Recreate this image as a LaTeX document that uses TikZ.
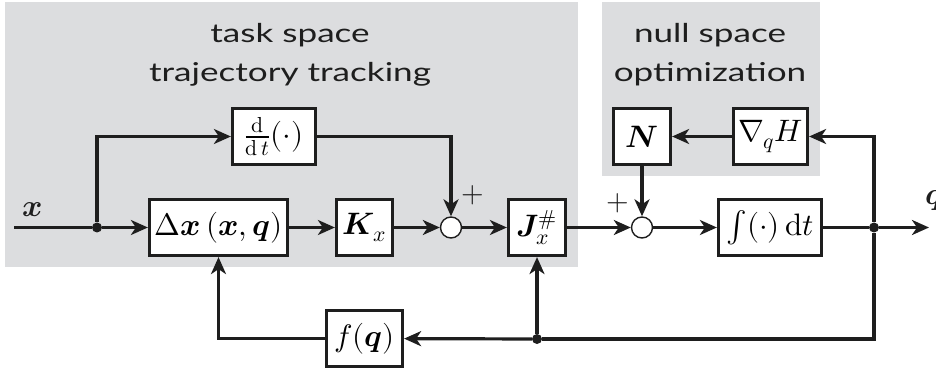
\documentclass[tikz,border=0pt]{standalone}
\usepackage{amsmath}
\usepackage{fontspec}
\usepackage{unicode-math}
\setmainfont{Lato}[FakeStretch=1.35]
\setmathfont{Latin Modern Math}
\usetikzlibrary{arrows.meta}

\definecolor{panel}{HTML}{DCDDDF}
\definecolor{ink}{HTML}{1E1E1E}

\begin{document}
\begin{tikzpicture}[x=1pt,y=-1pt,
  block/.style={draw=ink, line width=3.2pt, fill=white, minimum height=56pt,
    inner sep=0pt, font=\fontsize{31}{36}\selectfont},
  sumpt/.style={circle, draw=ink, line width=1.4pt, fill=white, minimum size=21pt, inner sep=0pt},
  dot/.style={circle, fill=ink, minimum size=10pt, inner sep=0pt},
  wire/.style={draw=ink, line width=3.2pt},
  flow/.style={wire, -{Stealth[length=17pt,width=15pt,inset=5pt]}},
  title/.style={font=\fontsize{26}{30}\selectfont, text=ink, anchor=base, inner sep=0pt},
  sign/.style={font=\fontsize{29}{30}\selectfont, text=ink, inner sep=0pt},
  sig/.style={font=\fontsize{31}{36}\selectfont, text=ink, inner sep=0pt}]
\useasboundingbox (0,0) rectangle (936,371);

% grey panels
\fill[panel] (5,2) rectangle (578,267);
\fill[panel] (602,2) rectangle (820,176);

% panel titles
\node[title] (t1a) at (290,43) {task space};
\node[title] (t1b) at (290,82) {trajectory tracking};
\node[title] (t2a) at (710,43) {null space};
\node[title] (t2b) at (710,82) {optimization};

% blocks
\node[block, minimum width=83pt]  (dd)   at (274,136.5) {$\tfrac{\symup{d}}{\symup{d}\,t}(\cdot)$};
\node[block, minimum width=138pt] (dx)   at (218.5,227.5) {$\mitDelta\symbfit{x}\left(\symbfit{x},\symbfit{q}\right)$};
\node[block, minimum width=56pt]  (K)    at (364.5,227.5) {$\symbfit{K}_{x}$};
\node[block, minimum width=57pt]  (J)    at (537,227.5) {$\symbfit{J}_{x}^{\#}$};
\node[block, minimum width=57pt]  (N)    at (642,136.5) {$\symbfit{N}$};
\node[block, minimum width=74pt]  (grad) at (770.5,136.5) {$\nabla_{q}H$};
\node[block, minimum width=103pt] (int)  at (770,227.5) {$\textstyle\int(\cdot)\,\symup{d}t$};
\node[block, minimum width=76pt]  (f)    at (364.5,338.5) {$f(\symbfit{q})$};

% summation points
\node[sumpt] (s1) at (451,227.5) {};
\node[sumpt] (s2) at (642,227.5) {};

% branch points
\node[dot] (j1) at (97,227.5) {};
\node[dot] (j2) at (874,227.5) {};
\node[dot] (j3) at (537,339) {};
\coordinate (in)  at (14,227.5);
\coordinate (out) at (929,227.5);
\coordinate (c1)  at (874,339);

% signals and signs
\node[sig] (xlab) at (33,210) {$\symbfit{x}$};
\node[sig] (qlab) at (934,201) {$\symbfit{q}$};
\node[sign] (p1) at (473,195) {$+$};
\node[sign] (p2) at (618,203) {$+$};

% forward path
\draw[wire] (in) -- (j1);
\draw[flow] (j1) -- (dx);
\draw[flow] (j1) |- (dd);
\draw[flow] (dd) -| (s1);
\draw[flow] (dx) -- (K);
\draw[flow] (K) -- (s1);
\draw[flow] (s1) -- (J);
\draw[flow] (J) -- (s2);
\draw[flow] (s2) -- (int);
\draw[wire] (int) -- (j2);
\draw[flow] (j2) -- (out);

% null space branch
\draw[flow] (j2) |- (grad);
\draw[flow] (grad) -- (N);
\draw[flow] (N) -- (s2);

% feedback
\draw[wire] (j2) -- (c1) -- (j3);
\draw[flow] (j3) -- (f);
\draw[flow] (j3) -- (J);
\draw[flow] (f) -| (dx);
\end{tikzpicture}
\end{document}
